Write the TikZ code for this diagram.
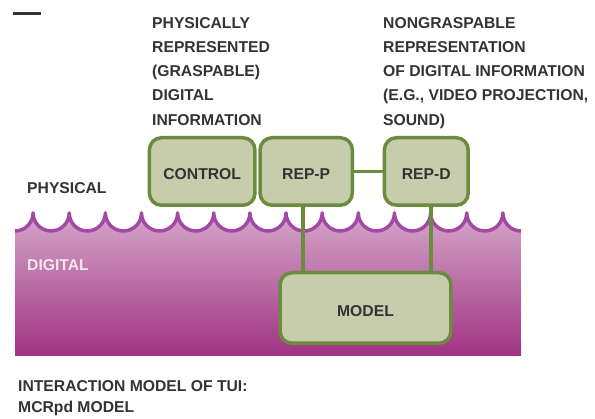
\documentclass[tikz,border=0pt]{standalone}
\usepackage{fontspec}
\setmainfont{Liberation Sans}
\usepackage{xcolor}
\usetikzlibrary{positioning}

\definecolor{boxfill}{HTML}{C6CCAC}
\definecolor{boxline}{HTML}{6B8C3E}
\definecolor{waveline}{HTML}{A349A4}
\definecolor{digtop}{HTML}{D4A6C8}
\definecolor{digmid}{HTML}{CC96BE}
\definecolor{digbot}{HTML}{A03382}
\definecolor{txt}{HTML}{333333}
\definecolor{digtxt}{HTML}{F3E6F0}

\begin{document}
\begin{tikzpicture}[x=1pt,y=1pt,
  mbox/.style={draw=boxline,fill=boxfill,line width=3.5pt,rounded corners=12pt,
    font=\fontsize{15.7}{18}\bfseries,text=txt,text height=17pt,text depth=0pt,inner sep=0pt},
  lbl/.style={font=\fontsize{15.7}{24.25}\bfseries,text=txt,align=left,inner sep=0pt},
  conn/.style={draw=boxline,line width=3.5pt}
]
\useasboundingbox (0,0) rectangle (595,419);

% digital sea
\shade[top color=digtop,middle color=digmid,bottom color=digbot]
  (15,63) -- (15,188) arc[start angle=270,end angle=360,radius=18.07pt]
  \foreach \k in {1,...,13} { arc[start angle=180,end angle=360,radius=18.07pt] }
  arc[start angle=180,end angle=270,radius=18.07pt] -- (521,63) -- cycle;
\draw[waveline,line width=3.5pt,line join=round]
  (15,188) arc[start angle=270,end angle=360,radius=18.07pt]
  \foreach \k in {1,...,13} { arc[start angle=180,end angle=360,radius=18.07pt] }
  arc[start angle=180,end angle=270,radius=18.07pt];

\draw[txt,line width=3pt] (13,405.5) -- (41,405.5);

\node[lbl,anchor=north west] (hdp) at (152,402) {PHYSICALLY\\REPRESENTED\\(GRASPABLE)\\DIGITAL\\INFORMATION};
\node[lbl,anchor=north west] (hdd) at (383,402) {NONGRASPABLE\\REPRESENTATION\\OF DIGITAL INFORMATION\\(E.G., VIDEO PROJECTION,\\SOUND)};
\node[lbl,anchor=base west] (phys) at (27,225) {PHYSICAL};
\node[lbl,anchor=base west,text=digtxt] (dig) at (27,148) {DIGITAL};

\node[mbox,minimum width=105.5pt,minimum height=67.5pt] (ctrl)  at (202.2,247.5) {CONTROL};
\node[mbox,minimum width=92.2pt,minimum height=67.5pt]  (repp)  at (306.2,247.5) {REP-P};
\node[mbox,minimum width=83.8pt,minimum height=67.5pt]  (repd)  at (426.3,247.5) {REP-D};
\node[mbox,minimum width=170.9pt,minimum height=70.5pt] (model) at (365.5,111) {MODEL};

\coordinate (lp) at (303,0);
\coordinate (ld) at (430.8,0);
\draw[conn] (repp.east) -- (repd.west);
\draw[conn] (repp.south -| lp) -- (model.north -| lp);
\draw[conn] (repd.south -| ld) -- (model.north -| ld);

\node[lbl,anchor=north west,font=\fontsize{15.7}{21}\bfseries] (cap) at (18,39) {INTERACTION MODEL OF TUI:\\MCRpd MODEL};
\end{tikzpicture}
\end{document}
